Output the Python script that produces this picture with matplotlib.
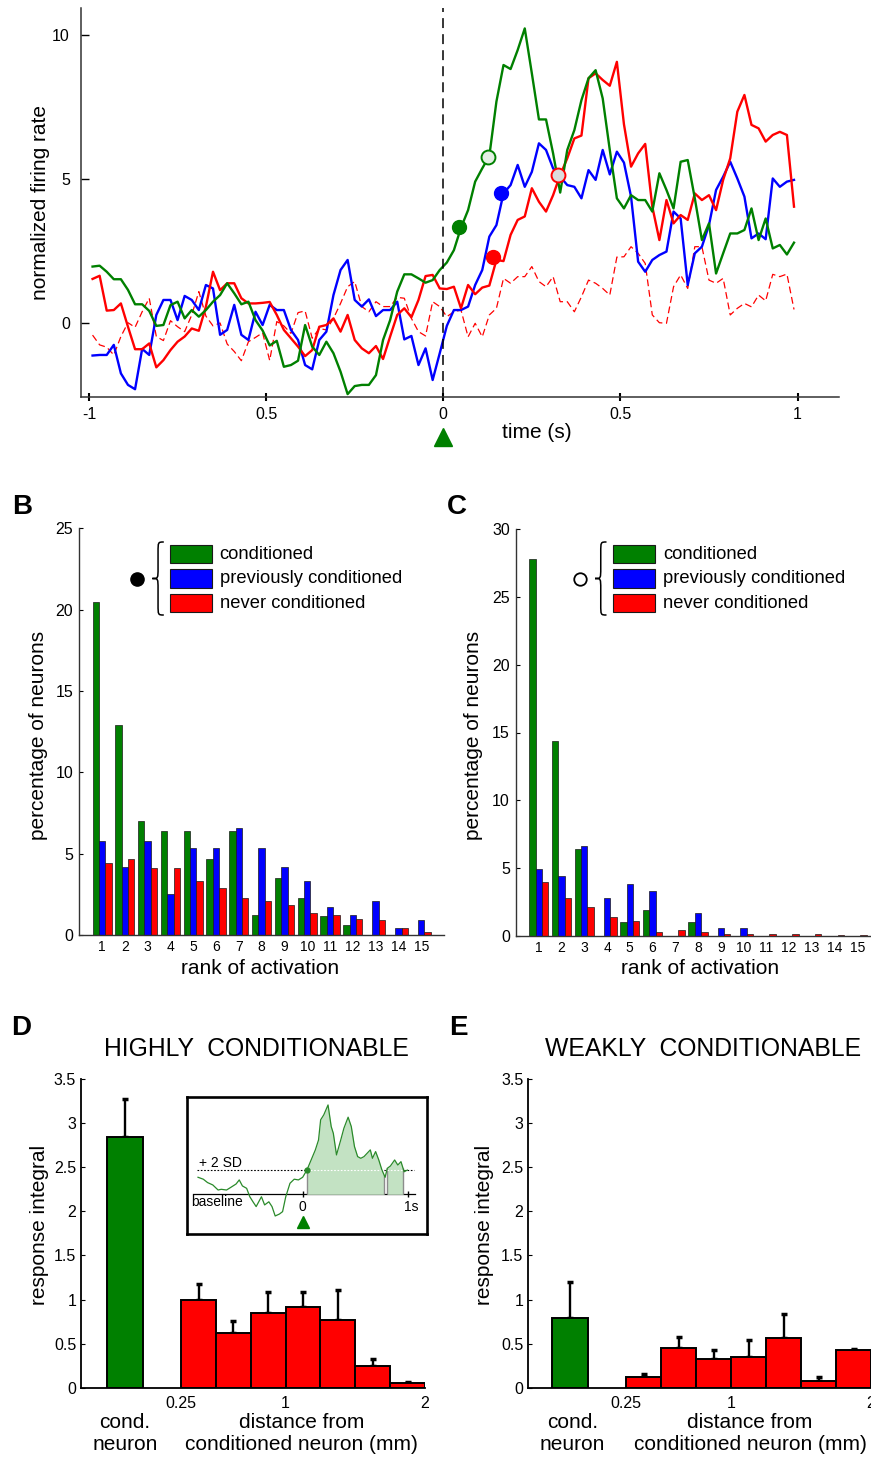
import numpy as np
import matplotlib
matplotlib.use('Agg')
import matplotlib.pyplot as plt
from matplotlib.path import Path
from matplotlib.patches import PathPatch, Rectangle

plt.rcParams['font.family'] = ['Liberation Sans', 'DejaVu Sans']

W, H = 871, 1457
GREEN, BLUE, RED = '#008000', '#0000ff', '#ff0000'

# ---------------- A: normalized firing rate, 20 ms bins ----------------
t_a = np.round(np.arange(-0.99, 1.0, 0.02), 2)
green_a = [1.96, 1.99, 1.78, 1.52, 1.52, 1.15, 0.65, 0.65, 0.42, -0.10,
           -0.07, 0.62, 0.74, 0.16, 0.45, 0.22, 0.45, 0.74, 0.97, 1.38,
           1.03, 0.65, 0.74, 0.10, -0.26, -0.78, -0.62, -1.52, -1.46, -1.31,
           -0.07, -0.82, -1.11, -0.65, -1.05, -1.69, -2.47, -2.19, -2.15, -2.15,
           -1.81, -0.59, 0.10, 1.09, 1.69, 1.69, 1.55, 1.40, 1.49, 1.84,
           2.10, 2.53, 3.31, 3.92, 4.91, 5.37, 5.80, 7.69, 8.96, 8.82,
           9.48, 10.23, 8.67, 7.07, 7.07, 5.89, 4.53, 6.01, 6.70, 7.74,
           8.50, 8.78, 7.80, 6.01, 4.33, 3.98, 4.44, 4.27, 4.27, 3.87,
           5.20, 4.62, 3.98, 5.60, 5.66, 4.33, 2.88, 3.46, 1.72, 2.42,
           3.11, 3.11, 3.23, 3.98, 2.88, 3.63, 2.59, 2.71, 2.38, 2.79]
red_a = [1.53, 1.64, 0.43, 0.45, 0.68, -0.13, -0.91, -0.91, -0.71, -1.54,
         -1.29, -0.94, -0.65, -0.47, -0.19, -0.27, 0.57, 1.78, 1.14, 1.38,
         1.38, 0.86, 0.68, 0.68, 0.70, 0.73, 0.28, -0.24, -0.53, -0.82,
         -1.15, -0.94, -0.13, -0.07, 0.16, -0.30, 0.28, -0.59, -0.88, -1.05,
         -0.80, -1.25, -0.47, 0.28, 0.51, 0.20, 0.80, 1.63, 1.67, 1.20,
         1.18, 1.26, 0.51, 1.32, 1.00, 1.23, 1.30, 2.19, 2.15, 3.06,
         3.58, 3.70, 4.68, 4.21, 3.87, 4.44, 5.14, 5.72, 6.41, 6.51,
         8.50, 8.67, 8.44, 8.24, 9.07, 6.90, 5.43, 5.89, 6.22, 4.04,
         2.88, 4.27, 3.46, 3.75, 3.58, 4.50, 4.27, 4.44, 3.92, 4.97,
         5.72, 7.34, 7.92, 6.88, 6.76, 6.30, 6.53, 6.64, 6.53, 4.04]
blue_a = [-1.13, -1.11, -1.11, -0.76, -1.75, -2.15, -2.30, -0.90, -1.11, 0.28,
          0.80, 0.80, 0.10, 0.94, 0.80, 0.45, 1.32, 1.20, -0.41, -0.24,
          0.63, -0.41, -0.59, 0.39, -0.07, 0.63, 0.45, 0.45, -0.24, -0.59,
          -1.46, -1.61, -0.59, -0.30, 0.97, 1.84, 2.19, 0.80, 0.57, 0.82,
          0.24, 0.45, 0.45, 0.74, -0.57, -0.45, -1.46, -0.88, -1.98, -1.05,
          -0.10, 0.45, 0.45, 0.57, 1.32, 1.84, 3.00, 3.40, 4.50, 4.79,
          5.49, 4.73, 5.25, 6.24, 6.01, 5.37, 5.08, 4.79, 4.73, 4.33,
          5.31, 4.97, 6.01, 5.16, 5.95, 5.57, 4.39, 2.13, 1.78, 2.19,
          2.36, 2.48, 3.87, 3.63, 1.32, 2.42, 2.65, 3.40, 4.62, 5.08,
          5.60, 5.02, 4.39, 2.94, 3.11, 2.91, 5.02, 4.73, 4.91, 4.97]
dashed_a = [-0.42, -0.76, -0.84, -1.11, -0.47, 0.01, -0.15, 0.39, 0.86, -0.47,
            -0.61, 0.08, -0.13, -0.30, 0.28, 1.09, 0.24, -0.10, 0.00, -0.73,
            -0.99, -1.31, -0.65, -0.50, -0.34, -1.30, 0.05, -0.10, -0.36, 0.36,
            0.42, -0.53, -0.19, -0.24, 0.16, 0.68, 1.26, 1.44, 0.57, 0.39,
            0.74, 0.57, 0.57, 0.89, 0.86, 0.16, -0.30, -0.45, 0.74, 0.57,
            0.22, 0.39, 0.45, -0.48, -0.01, -0.48, 0.28, 0.51, 1.55, 1.38,
            1.61, 1.61, 1.96, 1.44, 1.26, 1.61, 0.74, 0.74, 0.39, 0.91,
            1.49, 1.38, 1.20, 0.97, 2.29, 2.30, 2.65, 2.42, 2.07, 0.28,
            0.01, -0.01, 1.26, 1.67, 1.20, 2.65, 2.65, 1.49, 1.38, 1.55,
            0.28, 0.51, 0.68, 0.56, 0.97, 0.77, 1.69, 1.61, 1.70, 0.47]
# response onsets (filled) and onset of the average (open)
onset_t = [0.045, 0.164, 0.141]
onset_v = [3.33, 4.51, 2.29]
onset_c = [GREEN, BLUE, RED]
open_t = [0.127, 0.325]
open_v = [5.76, 5.14]
open_edge = [GREEN, RED]
open_face = ['#e4f0e4', '#dcdcdc']

# ---------------- B / C: rank of activation ----------------
ranks = np.arange(1, 16)
b_cond = [20.5, 12.9, 7.0, 6.4, 6.4, 4.7, 6.4, 1.2, 3.5, 2.3, 1.15, 0.6, 0, 0, 0]
b_prev = [5.8, 4.2, 5.8, 2.5, 5.35, 5.35, 6.6, 5.35, 4.2, 3.3, 1.7, 1.25, 2.1, 0.45, 0.9]
b_never = [4.45, 4.65, 4.1, 4.1, 3.35, 2.9, 2.25, 2.1, 1.85, 1.35, 1.2, 1.0, 0.9, 0.4, 0.2]
c_cond = [27.8, 14.4, 6.4, 0, 1.0, 1.9, 0, 1.0, 0, 0, 0, 0, 0, 0, 0]
c_prev = [4.9, 4.4, 6.6, 2.8, 3.8, 3.3, 0, 1.7, 0.6, 0.6, 0, 0, 0, 0, 0]
c_never = [4.0, 2.8, 2.1, 1.4, 1.1, 0.25, 0.45, 0.25, 0.15, 0.15, 0.15, 0.15, 0.15, 0.08, 0.08]
group_labels = ['conditioned', 'previously conditioned', 'never conditioned']

# ---------------- D / E: response integral vs distance ----------------
dist_edges = [0.25, 0.5, 0.75, 1.0, 1.25, 1.5, 1.75, 2.0]
d_cond, d_cond_sem = 2.84, 0.43
d_dist = [0.99, 0.62, 0.85, 0.91, 0.77, 0.25, 0.05]
d_dist_sem = [0.19, 0.14, 0.23, 0.18, 0.34, 0.08, 0.01]
e_cond, e_cond_sem = 0.79, 0.41
e_dist = [0.12, 0.45, 0.32, 0.35, 0.56, 0.08, 0.43]
e_dist_sem = [0.03, 0.13, 0.11, 0.19, 0.27, 0.04, 0.01]

# inset: example trace (units of SD above baseline)
inset_t = [-0.99, -0.94, -0.90, -0.85, -0.80, -0.77, -0.72, -0.68, -0.63, -0.60,
           -0.57, -0.53, -0.50, -0.47, -0.44, -0.39, -0.36, -0.32, -0.29, -0.26,
           -0.22, -0.19, -0.16, -0.12, -0.08, -0.04, 0.00, 0.04, 0.08, 0.12,
           0.15, 0.17, 0.20, 0.24, 0.27, 0.29, 0.32, 0.36, 0.39, 0.43,
           0.46, 0.49, 0.52, 0.55, 0.58, 0.61, 0.64, 0.66, 0.69, 0.72,
           0.75, 0.78, 0.80, 0.83, 0.87, 0.90, 0.93, 0.96, 0.99]
inset_v = [0.71, 0.63, 0.49, 0.39, 0.18, 0.21, 0.18, 0.29, 0.43, 0.60,
           0.35, 0.25, -0.10, -0.31, -0.51, -0.10, -0.44, -0.31, -0.51, -0.90,
           -0.82, -0.72, -0.10, 0.46, 0.63, 0.60, 0.71, 1.01, 1.43, 1.85,
           2.26, 3.10, 3.31, 3.72, 2.82, 2.54, 1.64, 2.26, 2.75, 3.21,
           2.82, 1.99, 1.57, 1.50, 1.57, 1.71, 1.85, 1.50, 1.78, 1.43,
           1.01, 0.71, 1.08, 1.18, 1.43, 1.22, 1.36, 0.94, 1.01]
resp_windows = [(0.04, 0.77), (0.80, 0.95)]


fig = plt.figure(figsize=(W / 100, H / 100), dpi=100)


def px_axes(l, t, r, b):
    # axes from pixel box (top-left origin)
    return fig.add_axes([l / W, 1 - b / H, (r - l) / W, (b - t) / H])


def clean(ax, lw=1.0, color='#333333'):
    for s in ['top', 'right']:
        ax.spines[s].set_visible(False)
    for s in ['left', 'bottom']:
        ax.spines[s].set_linewidth(lw)
        ax.spines[s].set_color(color)


# ---- A
axA = px_axes(81, 8, 839, 397)
clean(axA, 1.1)
axA.plot(t_a, dashed_a, color=RED, lw=0.9, ls=(0, (5.5, 3)))
axA.plot(t_a, blue_a, color=BLUE, lw=1.7)
axA.plot(t_a, red_a, color=RED, lw=1.7)
axA.plot(t_a, green_a, color=GREEN, lw=1.7)
axA.axvline(0, color='k', lw=1.1, ls=(0, (6.5, 4)))
for tt, vv, c in zip(onset_t, onset_v, onset_c):
    axA.plot(tt, vv, 'o', color=c, ms=10, zorder=5)
for tt, vv, ec, fc in zip(open_t, open_v, open_edge, open_face):
    axA.plot(tt, vv, 'o', mfc=fc, mec=ec, mew=1.4, ms=10, zorder=5)
axA.set_xlim(-1.0226, 1.117)
axA.set_ylim(-2.57, 10.94)
axA.set_xticks([-1, -0.5, 0, 0.5, 1])
axA.set_xticklabels(['-1', '0.5', '0', '0.5', '1'])
axA.set_yticks([0, 5, 10])
axA.tick_params(axis='x', direction='inout', length=6, width=1.5, pad=4, labelsize=11.5)
axA.tick_params(axis='y', direction='in', length=5.5, width=1, pad=8, labelsize=11.5)

# ---- B and C
bar_w = 0.28


def rank_panel(ax, cond, prev, never, ymax, yticks):
    clean(ax, 1.0)
    for off, vals, c in zip([-bar_w, 0, bar_w], [cond, prev, never], [GREEN, BLUE, RED]):
        ax.bar(ranks + off, vals, width=bar_w, color=c, edgecolor='#1a1a1a', linewidth=0.5)
    ax.set_xlim(0, 16)
    ax.set_ylim(0, ymax)
    ax.set_xticks(ranks)
    ax.set_yticks(yticks)
    ax.tick_params(axis='x', length=0, pad=3.5, labelsize=10)
    ax.tick_params(axis='y', direction='in', length=3, pad=4.5, labelsize=11.5)


axB = px_axes(79.3, 528.3, 444, 935)
rank_panel(axB, b_cond, b_prev, b_never, 25, [0, 5, 10, 15, 20, 25])
axC = px_axes(516, 529.3, 880, 935.7)
rank_panel(axC, c_cond, c_prev, c_never, 30, [0, 5, 10, 15, 20, 25, 30])

# ---- D and E
edges = np.array(dist_edges)
centers = (edges[:-1] + edges[1:]) / 2
cond_x = -0.15


def dist_panel(ax, cm, cs, dm, ds, xmin):
    clean(ax, 1.3, 'k')
    ax.bar([cond_x], [cm], width=0.26, color=GREEN, edgecolor='k', linewidth=1.4, zorder=2)
    ax.bar(centers, dm, width=0.25, color=RED, edgecolor='k', linewidth=1.4, zorder=2)
    xs = np.concatenate([[cond_x], centers])
    ms = np.concatenate([[cm], dm])
    ss = np.concatenate([[cs], ds])
    ax.errorbar(xs, ms, yerr=[np.zeros_like(ss), ss], fmt='none', ecolor='k',
                elinewidth=1.7, capsize=2, capthick=2.5, zorder=1)
    ax.set_xlim(xmin, 2.0)
    ax.set_ylim(0, 3.5)
    ax.set_xticks([0.25, 1, 2])
    ax.set_xticklabels(['0.25', '1', '2'])
    ax.set_yticks([0, 0.5, 1, 1.5, 2, 2.5, 3, 3.5])
    ax.set_yticklabels(['0', '0.5', '1', '1.5', '2', '2.5', '3', '3.5'])
    ax.tick_params(axis='x', length=0, pad=6, labelsize=11.5)
    ax.tick_params(axis='y', direction='in', length=3, pad=3.5, labelsize=11.5)


axD = px_axes(81, 1079, 425, 1387.7)
dist_panel(axD, d_cond, d_cond_sem, d_dist, d_dist_sem, -0.468)
axE = px_axes(528.3, 1079, 871, 1387.7)
dist_panel(axE, e_cond, e_cond_sem, e_dist, e_dist_sem, -0.448)

# ---- inset
axI = px_axes(186.7, 1097, 427.3, 1234)
axI.set_xlim(-1.097, 1.179)
axI.set_ylim(-1.65, 4.05)
axI.set_xticks([])
axI.set_yticks([])
for s in axI.spines.values():
    s.set_linewidth(1.9)
    s.set_color('k')
ti = np.array(inset_t)
vi = np.array(inset_v)
axI.plot([-1.04, 1.06], [0, 0], color='k', lw=0.9)
axI.plot([-1.0, 1.05], [1, 1], color='k', lw=0.8, ls=(0, (1.5, 1.5)))
for a, b in resp_windows:
    tt = np.concatenate([[a], ti[(ti > a) & (ti < b)], [b]])
    vv = np.interp(tt, ti, vi)
    axI.fill_between(tt, 0, vv, color='#c3e2c3', lw=0, zorder=2)
    axI.vlines([a, b], 0, [vv[0], vv[-1]], color='#8c8c8c', lw=1, zorder=3)
    axI.plot([a, b], [1, 1], color='white', lw=0.8, ls=(0, (1.5, 1.5)), zorder=3)
axI.plot(ti, vi, color='#2a8a2a', lw=0.9, zorder=4)
axI.plot(resp_windows[0][0], 1.0, 'o', color='#2a8a2a', ms=3.5, zorder=5)
axI.plot([0, 1], [0, 0], '|', color='k', ms=5, mew=1)
axI.plot(0, -1.16, '^', color=GREEN, ms=9, clip_on=False)
axI.text(0, -0.52, '0', ha='center', va='center', fontsize=10)
axI.text(1.03, -0.52, '1s', ha='center', va='center', fontsize=10)
axI.text(-0.81, -0.31, 'baseline', ha='center', va='center', fontsize=10)
axI.text(-0.78, 1.32, '+ 2 SD', ha='center', va='center', fontsize=10)

# ---- overlay for labels and legend keys (pixel coordinates)
ov = fig.add_axes([0, 0, 1, 1], zorder=10)
ov.set_xlim(0, W)
ov.set_ylim(H, 0)
ov.axis('off')
ov.patch.set_alpha(0)

LBL = 15
ov.text(40, 202, 'normalized firing rate', rotation=90, ha='center', va='center', fontsize=LBL)
ov.text(537, 433, 'time (s)', ha='center', va='center', fontsize=LBL)
ov.plot(443, 437, '^', color=GREEN, ms=13, clip_on=False)

ov.text(39, 735, 'percentage of neurons', rotation=90, ha='center', va='center', fontsize=LBL)
ov.text(260, 968, 'rank of activation', ha='center', va='center', fontsize=LBL)
ov.text(473, 735, 'percentage of neurons', rotation=90, ha='center', va='center', fontsize=LBL)
ov.text(700, 968, 'rank of activation', ha='center', va='center', fontsize=LBL)

ov.text(39.5, 1225, 'response integral', rotation=90, ha='center', va='center', fontsize=LBL)
ov.text(484, 1225, 'response integral', rotation=90, ha='center', va='center', fontsize=LBL)
ov.text(256, 1049, 'HIGHLY  CONDITIONABLE', ha='center', va='center', fontsize=17.8)
ov.text(703, 1049, 'WEAKLY  CONDITIONABLE', ha='center', va='center', fontsize=17.8)
for cx, dx in [(125, 301.7), (572.3, 750)]:
    ov.text(cx, 1423, 'cond.', ha='center', va='center', fontsize=LBL)
    ov.text(cx, 1444, 'neuron', ha='center', va='center', fontsize=LBL)
    ov.text(dx, 1423, 'distance from', ha='center', va='center', fontsize=LBL)
    ov.text(dx, 1444, 'conditioned neuron (mm)', ha='center', va='center', fontsize=LBL)

for letter, x, y in [('B', 22, 507), ('C', 457, 507), ('D', 21, 1028), ('E', 458, 1028)]:
    ov.text(x, y, letter, ha='center', va='center', fontsize=20, fontweight='bold')


def brace(ax, xl, xr, top, bot):
    xm = (xl + xr) / 2
    mid = (top + bot) / 2
    r = (xr - xl) * 0.9
    verts = [(xr, top), (xm, top), (xm, top), (xm, top + r),
             (xm, mid - r), (xm, mid), (xm, mid), (xl, mid),
             (xm, mid), (xm, mid), (xm, mid + r),
             (xm, bot - r), (xm, bot), (xm, bot), (xr, bot)]
    codes = [Path.MOVETO, Path.CURVE4, Path.CURVE4, Path.CURVE4,
             Path.LINETO, Path.CURVE4, Path.CURVE4, Path.CURVE4,
             Path.CURVE4, Path.CURVE4, Path.CURVE4,
             Path.LINETO, Path.CURVE4, Path.CURVE4, Path.CURVE4]
    ax.add_patch(PathPatch(Path(verts, codes), fc='none', ec='k', lw=1.1))


key_y = [(545, 563.3), (569, 588), (594.3, 611.7)]
for x0, circ_x, filled in [(170, 137.3, True), (613.3, 580, False)]:
    for (y0, y1), c, lab in zip(key_y, [GREEN, BLUE, RED], group_labels):
        ov.add_patch(Rectangle((x0, y0), 41.7, y1 - y0, fc=c, ec='#1a1a1a', lw=0.8))
        ov.text(x0 + 49.5, (y0 + y1) / 2, lab, ha='left', va='center', fontsize=13.2)
    if filled:
        ov.plot(circ_x, 578.5, 'o', color='k', ms=9.5)
    else:
        ov.plot(circ_x, 578.5, 'o', mfc='white', mec='k', mew=1.3, ms=9)
    brace(ov, circ_x + 15, circ_x + 26.5, 542, 615)

fig.savefig('out.png', dpi=100)
